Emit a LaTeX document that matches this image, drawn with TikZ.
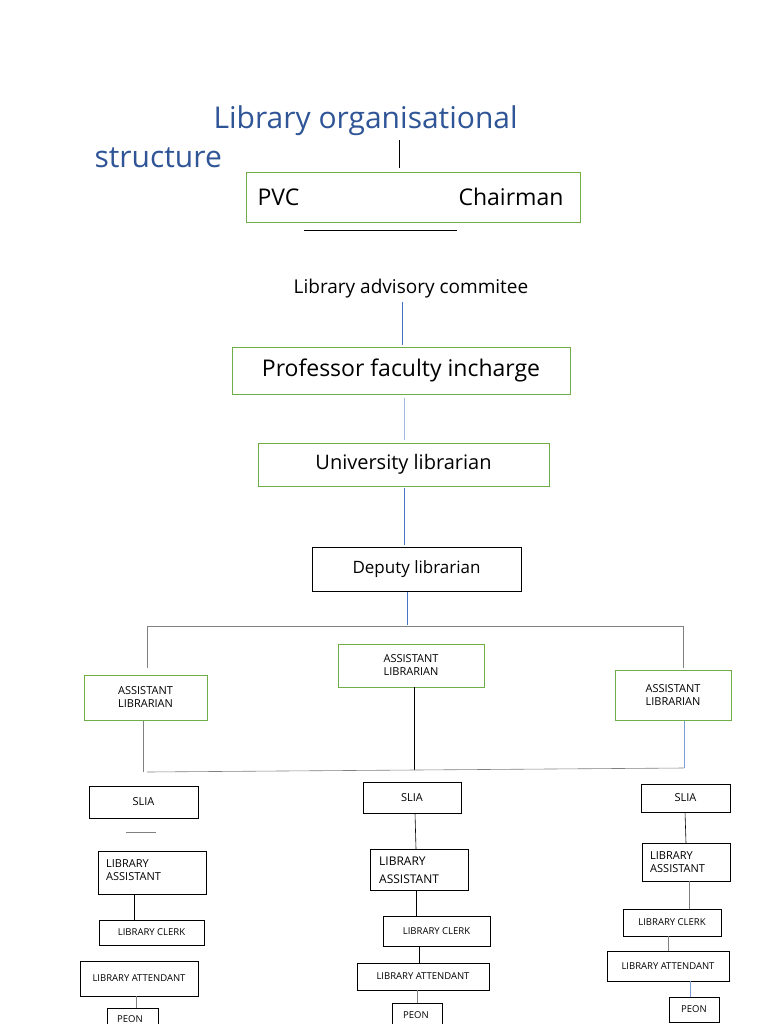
\documentclass[tikz,border=0pt]{standalone}
\usepackage{fontspec}
\setmainfont{Open Sans}
\definecolor{tblue}{HTML}{2F5597}
\definecolor{gbox}{HTML}{70AD47}
\definecolor{lblue}{HTML}{4472C4}
\begin{document}
\begin{tikzpicture}[x=1pt,y=-1pt,
 bx/.style={draw=#1,line width=0.7pt},
 lbl/.style={font=\fontsize{11}{13}\selectfont,align=left,inner sep=0pt},
 ln/.style={line width=0.6pt,draw=#1}]
\useasboundingbox (0,0) rectangle (768,1024);
\node[tblue,font=\fontsize{30}{34}\selectfont,anchor=west] (t1) at (210,121) {Library organisational};
\node[tblue,font=\fontsize{30}{34}\selectfont,anchor=west] (t2) at (91,158) {structure};
\coordinate (c1) at (399,140);
\draw[ln=black] (c1) -- (399,168);
\draw[bx=gbox] (246,172) rectangle (580,222);
\node[font=\fontsize{23}{26}\selectfont,anchor=west] (pvc) at (254,197) {PVC};
\node[font=\fontsize{23}{26}\selectfont,anchor=east] (ch) at (567,197) {Chairman};
\draw[ln=black] (304,230) -- (457,230);
\node[font=\fontsize{19}{22}\selectfont] (lac) at (411,289) {Library advisory commitee};
\draw[ln=lblue] (402,302) -- (402,345);
\node[bx=gbox,minimum width=338,minimum height=47,font=\fontsize{23}{26}\selectfont] (pf) at (401,370.5) {Professor faculty incharge};
\draw[ln=lblue!50] (404,398) -- (404,440);
\node[bx=gbox,minimum width=291,minimum height=43,font=\fontsize{20}{24}\selectfont] (ul) at (403.5,464.5) {University librarian};
\draw[ln=lblue] (404,488) -- (404,545);
\node[bx=black,minimum width=209,minimum height=44,font=\fontsize{17}{20}\selectfont] (dl) at (416.5,569) {Deputy librarian};
\draw[ln=lblue] (407,592) -- (407,625);
\draw[ln=gray] (147,668) -- (147,626) -- (683,626) -- (683,668);
\node[bx=gbox,minimum width=146,minimum height=43,lbl,align=center] (am) at (411,665.5) {ASSISTANT\\LIBRARIAN};
\node[bx=gbox,minimum width=123,minimum height=45,lbl,align=center] (al) at (145.5,697.5) {ASSISTANT\\LIBRARIAN};
\node[bx=gbox,minimum width=116,minimum height=50,lbl,align=center] (ar) at (673,695) {ASSISTANT\\LIBRARIAN};
\draw[ln=black] (am.south -| 414,0) -- (414,770);
\draw[ln=gray] (143,721) -- (143,772);
\draw[ln=lblue!70] (684,721) -- (684,768);
\draw[ln=gray] (147,772) -- (684,768);
% SLIA
\node[bx=black,minimum width=109,minimum height=32,lbl] (s1) at (143.5,802) {SLIA};
\node[bx=black,minimum width=98,minimum height=31,lbl] (s2) at (412,797.5) {SLIA};
\node[bx=black,minimum width=89,minimum height=28,lbl] (s3) at (685.5,798) {SLIA};
\draw[ln=gray] (126,832) -- (156,832);
% library assistant
\draw[bx=black] (98,851) rectangle (206,894);
\node[lbl,anchor=west] (la1) at (106,870) {LIBRARY\\ASSISTANT};
\draw[bx=black] (370,849) rectangle (468,890);
\node[lbl,anchor=west,font=\fontsize{12}{18}\selectfont] (la2) at (379,870) {LIBRARY\\ASSISTANT};
\draw[bx=black] (642,843) rectangle (730,881);
\node[lbl,anchor=west] (la3) at (650,862) {LIBRARY\\ASSISTANT};
\draw[ln=black] (415,813) -- (416,849);
\draw[ln=black] (685,812) -- (686,843);
% clerk
\node[bx=black,minimum width=105,minimum height=25,lbl,font=\fontsize{9.5}{11}\selectfont] (c1b) at (151.5,932.5) {LIBRARY CLERK};
\node[bx=black,minimum width=107,minimum height=30,lbl,font=\fontsize{9.5}{11}\selectfont] (c2b) at (436.5,931) {LIBRARY CLERK};
\node[bx=black,minimum width=98,minimum height=27,lbl,font=\fontsize{9.5}{11}\selectfont] (c3b) at (672,922.5) {LIBRARY CLERK};
\draw[ln=black] (134,894) -- (134,920);
\draw[ln=black] (416,890) -- (416,916);
\draw[ln=gray] (689,881) -- (689,909);
% attendant
\node[bx=black,minimum width=118,minimum height=35,lbl,font=\fontsize{9.5}{11}\selectfont] (a1) at (139,978.5) {LIBRARY ATTENDANT};
\node[bx=black,minimum width=132,minimum height=27,lbl,font=\fontsize{9.5}{11}\selectfont] (a2) at (423,976.5) {LIBRARY ATTENDANT};
\node[bx=black,minimum width=122,minimum height=30,lbl,font=\fontsize{9.5}{11}\selectfont] (a3) at (668,966) {LIBRARY ATTENDANT};
\draw[ln=black] (419,946) -- (419,963);
\draw[ln=gray] (668,936) -- (668,951);
% peon
\draw[bx=black] (107,1008) -- (107,1030) (158,1030) -- (158,1008) -- (107,1008);
\node[lbl,font=\fontsize{9.5}{11}\selectfont] (p1) at (130,1019) {PEON};
\draw[bx=black] (392,1003) -- (392,1030) (442,1030) -- (442,1003) -- (392,1003);
\node[lbl,font=\fontsize{9.5}{11}\selectfont] (p2) at (416,1015) {PEON};
\node[bx=black,minimum width=50,minimum height=25,lbl,font=\fontsize{9.5}{11}\selectfont] (p3) at (694,1009.5) {PEON};
\draw[ln=lblue!70] (690,981) -- (690,997);
\draw[ln=gray] (136,996) -- (136,1008);
\draw[ln=gray] (417,990) -- (417,1003);
\end{tikzpicture}
\end{document}
